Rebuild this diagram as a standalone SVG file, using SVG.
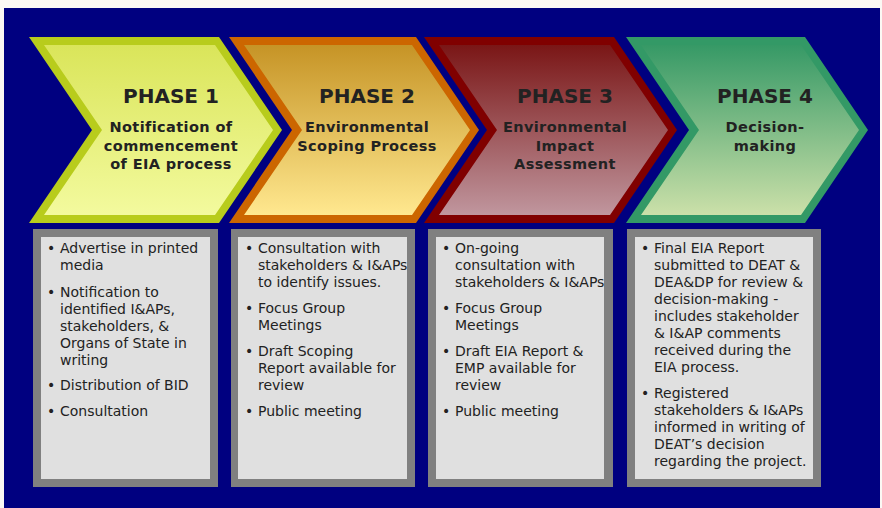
<svg xmlns="http://www.w3.org/2000/svg" width="882" height="508" viewBox="0 0 882 508">
<defs>
<linearGradient id="g1" x1="0" y1="0" x2="0" y2="1"><stop offset="0" stop-color="#dae55a"/><stop offset="1" stop-color="#f3fa9e"/></linearGradient>
<linearGradient id="g2" x1="0" y1="0" x2="0" y2="1"><stop offset="0" stop-color="#c69426"/><stop offset="1" stop-color="#ffe88f"/></linearGradient>
<linearGradient id="g3" x1="0" y1="0" x2="0" y2="1"><stop offset="0" stop-color="#7a1616"/><stop offset="1" stop-color="#c0969e"/></linearGradient>
<linearGradient id="g4" x1="0" y1="0" x2="0" y2="1"><stop offset="0" stop-color="#369966"/><stop offset="1" stop-color="#cbe0a9"/></linearGradient>
<style>
.t{font-family:"DejaVu Sans",Verdana,sans-serif;font-weight:bold;font-size:20px;fill:#222;text-anchor:middle}
.s{font-family:"DejaVu Sans",Verdana,sans-serif;font-weight:bold;font-size:14.5px;fill:#222;text-anchor:middle;letter-spacing:0.4px}
.b{font-family:"DejaVu Sans",Verdana,sans-serif;font-size:14px;fill:#222}
.bo{fill:#808080}
.bi{fill:#e0e0e0}
</style>
</defs>
<rect x="0" y="0" width="882" height="508" fill="#fbf8f4"/>
<rect x="4" y="8" width="876" height="500" fill="#000080"/>
<g id="connectors"></g>
<g id="phase1">
<polygon points="29,37 219,37 282,130 219,223 29,223 92,130" fill="#b8cc1c"/>
<polygon points="44,45 215,45 273,130 215,215 44,215 102,130" fill="url(#g1)"/>
<text class="t" x="171" y="103">PHASE 1</text>
<text class="s" x="171" y="132">Notification of</text>
<text class="s" x="171" y="150.5">commencement</text>
<text class="s" x="171" y="169">of EIA process</text>
</g>
<g id="phase2">
<polygon points="229,37 416,37 479,130 416,223 229,223 292,130" fill="#cc6600"/>
<polygon points="244,45 412,45 470,130 412,215 244,215 302,130" fill="url(#g2)"/>
<text class="t" x="367" y="103">PHASE 2</text>
<text class="s" x="367" y="132">Environmental</text>
<text class="s" x="367" y="150.5">Scoping Process</text>
</g>
<g id="phase3">
<polygon points="424,37 614,37 677,130 614,223 424,223 487,130" fill="#800000"/>
<polygon points="439,45 610,45 668,130 610,215 439,215 497,130" fill="url(#g3)"/>
<text class="t" x="565" y="103">PHASE 3</text>
<text class="s" x="565" y="132">Environmental</text>
<text class="s" x="565" y="150.5">Impact</text>
<text class="s" x="565" y="169">Assessment</text>
</g>
<g id="phase4">
<polygon points="626,37 805,37 868,130 805,223 626,223 689,130" fill="#339966"/>
<polygon points="641,45 801,45 859,130 801,215 641,215 699,130" fill="url(#g4)"/>
<text class="t" x="765" y="103">PHASE 4</text>
<text class="s" x="765" y="132">Decision-</text>
<text class="s" x="765" y="150.5">making</text>
</g>
<g id="box1">
<rect class="bo" x="33" y="229" width="185" height="258"/>
<rect class="bi" x="41" y="237" width="169" height="242"/>
<text class="b" x="47" y="253">•</text>
<text class="b" x="60" y="253">Advertise in printed</text>
<text class="b" x="60" y="270">media</text>
<text class="b" x="47" y="297">•</text>
<text class="b" x="60" y="297">Notification to</text>
<text class="b" x="60" y="314">identified I&amp;APs,</text>
<text class="b" x="60" y="331">stakeholders, &amp;</text>
<text class="b" x="60" y="348">Organs of State in</text>
<text class="b" x="60" y="365">writing</text>
<text class="b" x="47" y="390">•</text>
<text class="b" x="60" y="390">Distribution of BID</text>
<text class="b" x="47" y="416">•</text>
<text class="b" x="60" y="416">Consultation</text>
</g>
<g id="box2">
<rect class="bo" x="231" y="229" width="184" height="258"/>
<rect class="bi" x="238" y="237" width="169" height="242"/>
<text class="b" x="245" y="253">•</text>
<text class="b" x="258" y="253">Consultation with</text>
<text class="b" x="258" y="270">stakeholders &amp; I&amp;APs</text>
<text class="b" x="258" y="287">to identify issues.</text>
<text class="b" x="245" y="313">•</text>
<text class="b" x="258" y="313">Focus Group</text>
<text class="b" x="258" y="330">Meetings</text>
<text class="b" x="245" y="356">•</text>
<text class="b" x="258" y="356">Draft Scoping</text>
<text class="b" x="258" y="373">Report available for</text>
<text class="b" x="258" y="390">review</text>
<text class="b" x="245" y="416">•</text>
<text class="b" x="258" y="416">Public meeting</text>
</g>
<g id="box3">
<rect class="bo" x="428" y="229" width="185" height="258"/>
<rect class="bi" x="436" y="237" width="168" height="242"/>
<text class="b" x="442" y="253">•</text>
<text class="b" x="455" y="253">On-going</text>
<text class="b" x="455" y="270">consultation with</text>
<text class="b" x="455" y="287">stakeholders &amp; I&amp;APs</text>
<text class="b" x="442" y="313">•</text>
<text class="b" x="455" y="313">Focus Group</text>
<text class="b" x="455" y="330">Meetings</text>
<text class="b" x="442" y="356">•</text>
<text class="b" x="455" y="356">Draft EIA Report &amp;</text>
<text class="b" x="455" y="373">EMP available for</text>
<text class="b" x="455" y="390">review</text>
<text class="b" x="442" y="416">•</text>
<text class="b" x="455" y="416">Public meeting</text>
</g>
<g id="box4">
<rect class="bo" x="627" y="229" width="194" height="258"/>
<rect class="bi" x="635" y="237" width="178" height="242"/>
<text class="b" x="641" y="253">•</text>
<text class="b" x="654" y="253">Final EIA Report</text>
<text class="b" x="654" y="270">submitted to DEAT &amp;</text>
<text class="b" x="654" y="287">DEA&amp;DP for review &amp;</text>
<text class="b" x="654" y="304">decision-making -</text>
<text class="b" x="654" y="321">includes stakeholder</text>
<text class="b" x="654" y="338">&amp; I&amp;AP comments</text>
<text class="b" x="654" y="355">received during the</text>
<text class="b" x="654" y="372">EIA process.</text>
<text class="b" x="641" y="398">•</text>
<text class="b" x="654" y="398">Registered</text>
<text class="b" x="654" y="415">stakeholders &amp; I&amp;APs</text>
<text class="b" x="654" y="432">informed in writing of</text>
<text class="b" x="654" y="449">DEAT’s decision</text>
<text class="b" x="654" y="466">regarding the project.</text>
</g>
</svg>
